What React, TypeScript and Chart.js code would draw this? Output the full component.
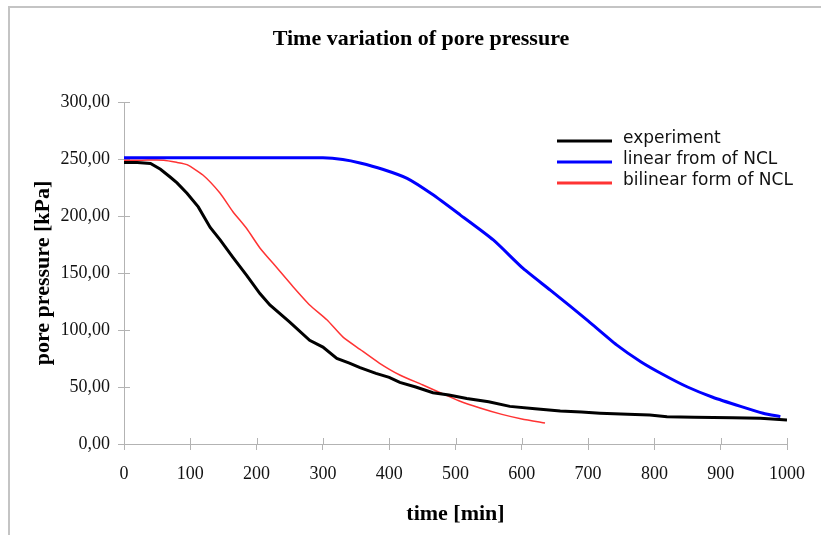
import React, { useEffect, useRef } from "react";
import { Chart, registerables } from "chart.js";

Chart.register(...registerables);

const chartTitle = "Time variation of pore pressure";
const xTitle = "time [min]";
const yTitle = "pore pressure [kPa]";

const expTime = [0, 20, 40, 55, 70, 80, 95, 112, 130, 145, 164, 185, 205, 220, 250, 280, 300, 321, 340, 356, 380, 400, 416, 440, 466, 490, 517, 550, 582, 620, 658, 690, 718, 760, 793, 819, 860, 918, 960, 1000];
const expValues = [247, 247, 246, 241, 234, 229, 220, 208, 190, 179, 164, 148, 132, 122, 107, 91, 85, 75, 71, 67, 62, 58.5, 54, 50, 45, 43, 40, 37, 33, 31, 29, 28, 27, 26, 25.5, 24, 23.5, 23, 22.5, 21];

const linTime = [0, 100, 200, 300, 330, 356, 390, 427, 465, 507, 557, 602, 643, 700, 743, 780, 813, 850, 888, 930, 964, 990];
const linValues = [251, 251, 251, 251, 249.5, 246.5, 241, 233, 219, 201, 179, 154, 135, 108, 87, 72, 61, 50, 41, 33, 27, 24];

const bilTime = [0, 27, 60, 80, 95, 119, 145, 164, 185, 205, 230, 255, 280, 306, 330, 356, 385, 416, 450, 477, 505, 537, 570, 600, 635];
const bilValues = [249, 249, 249, 247, 245, 236, 220, 204, 189, 172, 155, 138, 122, 109, 94, 83, 71, 60.5, 52, 45, 38, 31.6, 26, 22, 18.4];

const seriesNames = ["experiment", "linear from of NCL", "bilinear form of NCL"];
const seriesColors = ["#000000", "#0000ff", "#ff3333"];

const toPoints = (t: number[], v: number[]) => t.map((x, i) => ({ x, y: v[i] }));

const decorPlugin = {
  id: "decor",
  beforeDatasetsDraw(chart: any) {
    const ctx = chart.ctx;
    const xs = chart.scales.x;
    const ys = chart.scales.y;
    const area = chart.chartArea;
    ctx.save();
    ctx.strokeStyle = "#b3b3b3";
    ctx.lineWidth = 1;
    ctx.beginPath();
    xs.ticks.forEach((t: any) => {
      const px = Math.round(xs.getPixelForValue(t.value)) + 0.5;
      ctx.moveTo(px, area.bottom);
      ctx.lineTo(px, area.bottom - 6);
    });
    ys.ticks.forEach((t: any) => {
      const py = Math.round(ys.getPixelForValue(t.value)) + 0.5;
      ctx.moveTo(area.left, py);
      ctx.lineTo(area.left + 6, py);
    });
    ctx.stroke();
    ctx.restore();
  },
  afterDraw(chart: any) {
    const ctx = chart.ctx;
    const area = chart.chartArea;
    ctx.save();
    ctx.fillStyle = "#c4c4c4";
    ctx.fillRect(8, 6, 813, 2);
    ctx.fillRect(8, 6, 2, 529);
    ctx.fillStyle = "#000";
    ctx.textAlign = "center";
    ctx.textBaseline = "middle";
    ctx.font = "bold 22px 'Liberation Serif'";
    ctx.fillText(chartTitle, 421, 39);
    ctx.fillText(xTitle, (area.left + area.right) / 2, 514);
    ctx.save();
    ctx.translate(43, (area.top + area.bottom) / 2);
    ctx.rotate(-Math.PI / 2);
    ctx.fillText(yTitle, 0, 0);
    ctx.restore();
    const rows = [141, 162, 183];
    ctx.font = "17px 'DejaVu Sans'";
    ctx.textAlign = "left";
    chart.data.datasets.forEach((ds: any, i: number) => {
      ctx.strokeStyle = ds.borderColor;
      ctx.lineWidth = 3;
      ctx.beginPath();
      ctx.moveTo(557, rows[i]);
      ctx.lineTo(612, rows[i]);
      ctx.stroke();
      ctx.fillStyle = "#111";
      ctx.fillText(ds.label, 623, rows[i] - 2);
    });
    ctx.restore();
  },
};

export default function App() {
  const ref = useRef<HTMLCanvasElement | null>(null);
  useEffect(() => {
    if (!ref.current) return;
    const chart = new Chart(ref.current, {
      type: "line",
      data: {
        datasets: [
          { label: seriesNames[0], data: toPoints(expTime, expValues), borderColor: seriesColors[0], borderWidth: 3, pointRadius: 0, fill: false, tension: 0 },
          { label: seriesNames[1], data: toPoints(linTime, linValues), borderColor: seriesColors[1], borderWidth: 3, pointRadius: 0, fill: false, tension: 0.2 },
          { label: seriesNames[2], data: toPoints(bilTime, bilValues), borderColor: seriesColors[2], borderWidth: 1.5, pointRadius: 0, fill: false, tension: 0.2 },
        ],
      },
      options: {
        animation: false,
        responsive: false,
        devicePixelRatio: 1,
        layout: { padding: { top: 102, right: 34, left: 0, bottom: 0 } },
        plugins: { legend: { display: false }, title: { display: false }, tooltip: { enabled: false } },
        scales: {
          x: {
            type: "linear",
            min: 0,
            max: 1000,
            afterFit: (s: any) => { s.height = 91; },
            ticks: {
              stepSize: 100,
              color: "#111",
              padding: 13,
              font: { family: "'Liberation Serif'", size: 18 },
              callback: (v: any) => String(v),
            },
            grid: { drawOnChartArea: false, drawTicks: true, tickLength: 6, color: "#b3b3b3" },
            border: { display: true, color: "#b3b3b3" },
          },
          y: {
            min: 0,
            max: 300,
            afterFit: (s: any) => { s.width = 124; },
            ticks: {
              stepSize: 50,
              color: "#111",
              padding: 8,
              font: { family: "'Liberation Serif'", size: 18 },
              callback: (v: any) => Number(v).toFixed(2).replace(".", ","),
            },
            grid: { drawOnChartArea: false, drawTicks: true, tickLength: 6, color: "#b3b3b3" },
            border: { display: true, color: "#b3b3b3" },
          },
        },
      },
      plugins: [decorPlugin],
    });
    return () => chart.destroy();
  }, []);
  return (
    <div style={{ position: "fixed", left: 0, top: 0, width: 821, height: 535, background: "#fff" }}>
      <canvas ref={ref} width={821} height={535} style={{ display: "block" }} />
    </div>
  );
}
